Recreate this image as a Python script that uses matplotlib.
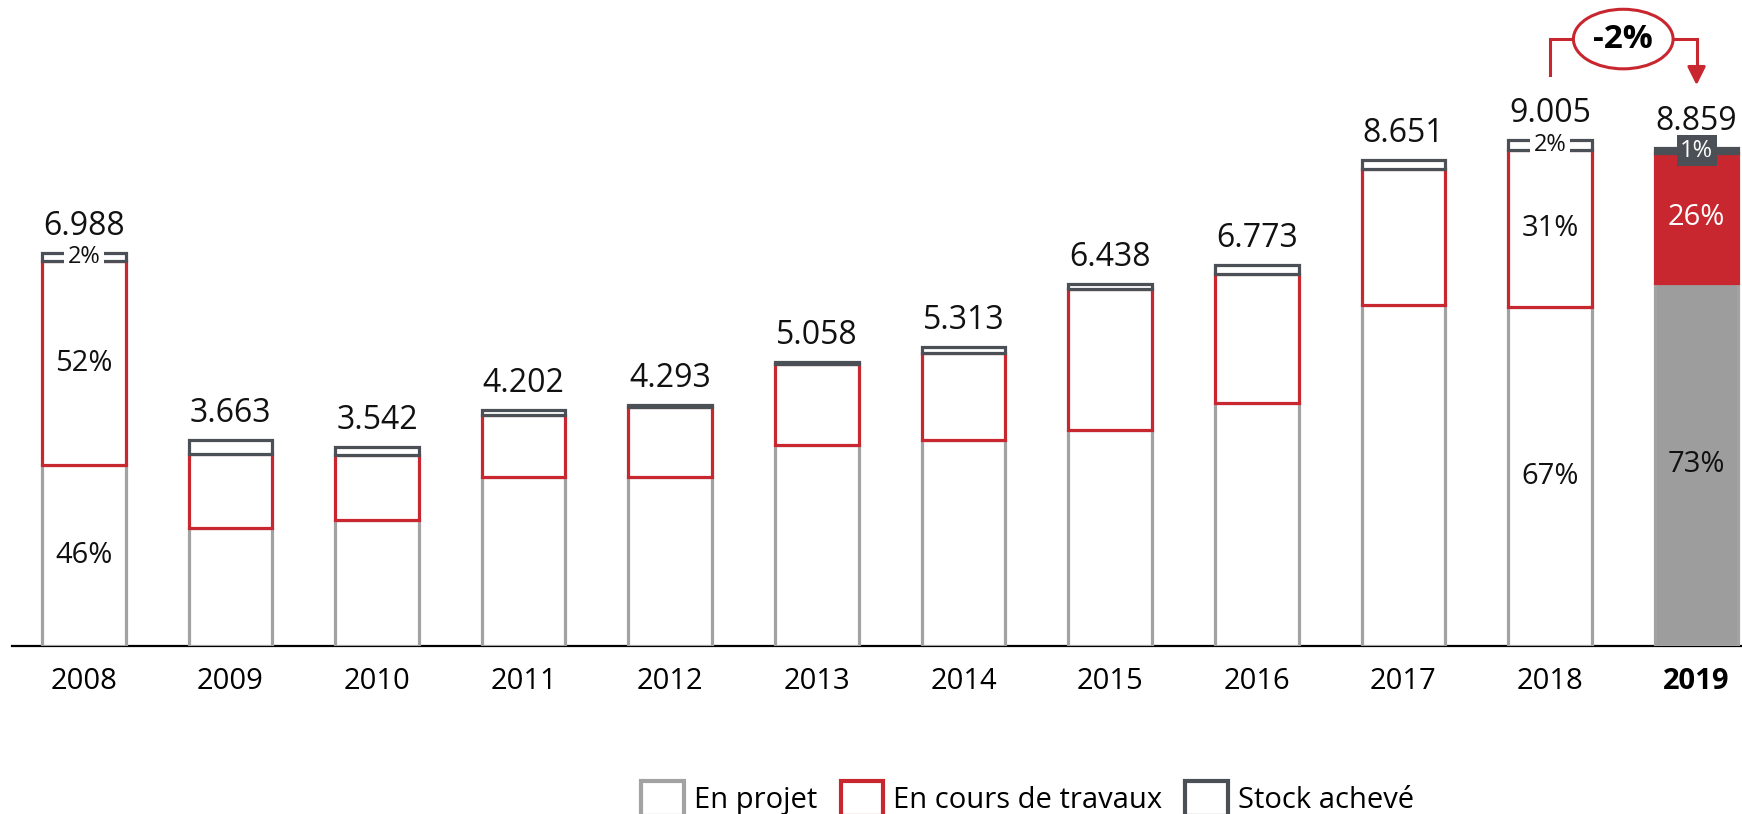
import matplotlib.pyplot as plt
from matplotlib.patches import Patch, Ellipse

# values (number of units)
years = ['2008', '2009', '2010', '2011', '2012', '2013', '2014', '2015', '2016', '2017', '2018', '2019']
en_projet = [3214, 2098, 2240, 3007, 3002, 3577, 3665, 3843, 4324, 6068, 6033, 6467]
en_cours = [3634, 1316, 1156, 1095, 1251, 1441, 1548, 2505, 2289, 2413, 2792, 2303]
stock = [140, 249, 146, 100, 40, 40, 100, 90, 160, 170, 180, 89]
totals = [6988, 3663, 3542, 4202, 4293, 5058, 5313, 6438, 6773, 8651, 9005, 8859]

# share labels shown on some bars
pct_idx = [0, 10, 11]
pct_projet = ['46%', '67%', '73%']
pct_cours = ['52%', '31%', '26%']
pct_stock = ['2%', '2%', '1%']
change_label = '-2%'

GREY = '#a2a2a2'
GREY_FILL = '#9d9d9d'
RED = '#c8272f'
DARK = '#4b5056'

plt.rcParams['font.family'] = ['Open Sans', 'DejaVu Sans']

fig = plt.figure(figsize=(17.42, 8.14), dpi=100)
ax = fig.add_axes([12 / 1742, 168 / 814, 1730 / 1742, 646 / 814])

x = list(range(len(years)))
last = len(years) - 1
w = 0.57
lw = 2.3

fc_grey = ['white'] * last + [GREY_FILL]
fc_red = ['white'] * last + [RED]
fc_dark = ['white'] * last + [DARK]
bottom2 = [a + b for a, b in zip(en_projet, en_cours)]

ax.bar(x, en_projet, width=w, color=fc_grey, edgecolor=GREY, linewidth=lw, zorder=2)
ax.bar(x, en_cours, width=w, bottom=en_projet, color=fc_red, edgecolor=RED, linewidth=lw, zorder=3)
ax.bar(x, stock, width=w, bottom=bottom2, color=fc_dark, edgecolor=DARK, linewidth=lw, zorder=4)

# totals above bars
for i, t in enumerate(totals):
    ax.annotate(f'{t:,}'.replace(',', '.'), (i, t), xytext=(0, 13), textcoords='offset points',
                ha='center', va='baseline', fontsize=23, color='#111111')

# percentage labels
for k, i in enumerate(pct_idx):
    filled = i == last
    ax.text(i, en_projet[i] / 2, pct_projet[k], ha='center', va='center', fontsize=21,
            color='#111111', zorder=6)
    ax.text(i, en_projet[i] + en_cours[i] / 2, pct_cours[k], ha='center', va='center', fontsize=21,
            color='white' if filled else '#111111', zorder=6)
    ax.text(i, bottom2[i] + stock[i] / 2, pct_stock[k], ha='center', va='center', fontsize=17,
            color='white' if filled else '#111111', zorder=6,
            bbox=dict(boxstyle='square,pad=0.15', facecolor=DARK if filled else 'white', edgecolor='none'))

# change annotation between 2018 and 2019
y_top = 10800
ax.plot([last - 1, last - 1, last, last], [10160, y_top, y_top, 10250], color=RED, linewidth=2.2, zorder=5,
        solid_joinstyle='miter')
ax.annotate('', xy=(last, 9930), xytext=(last, 10300),
            arrowprops=dict(arrowstyle='-|>,head_length=1.1,head_width=0.55', color=RED, linewidth=2.2),
            zorder=5)
ax.add_patch(Ellipse((last - 0.5, y_top), 0.68, 1060, facecolor='white', edgecolor=RED, linewidth=2.2, zorder=6))
ax.text(last - 0.5, y_top, change_label, ha='center', va='center', fontsize=24, fontweight='bold', zorder=7)

ax.set_xlim(-0.49, 11.31)
ax.set_ylim(0, 11495)
ax.set_xticks(x)
ax.set_xticklabels(years, fontsize=21)
ax.get_xticklabels()[-1].set_fontweight('bold')
ax.tick_params(axis='x', length=0, pad=15)
ax.set_yticks([])
for s in ['top', 'right', 'left']:
    ax.spines[s].set_visible(False)
ax.spines['bottom'].set_linewidth(1.6)
ax.spines['bottom'].set_zorder(1)

handles = [Patch(facecolor='white', edgecolor=GREY, linewidth=3, label='En projet'),
           Patch(facecolor='white', edgecolor=RED, linewidth=3, label='En cours de travaux'),
           Patch(facecolor='white', edgecolor=DARK, linewidth=3, label='Stock achevé')]
fig.legend(handles=handles, loc='lower center', bbox_to_anchor=(0.59, -0.027), ncol=3, frameon=False,
           fontsize=21, handlelength=1.45, handleheight=1.45, handletextpad=0.35, columnspacing=0.8,
           borderpad=0.2)

fig.savefig('out.png', dpi=100)
